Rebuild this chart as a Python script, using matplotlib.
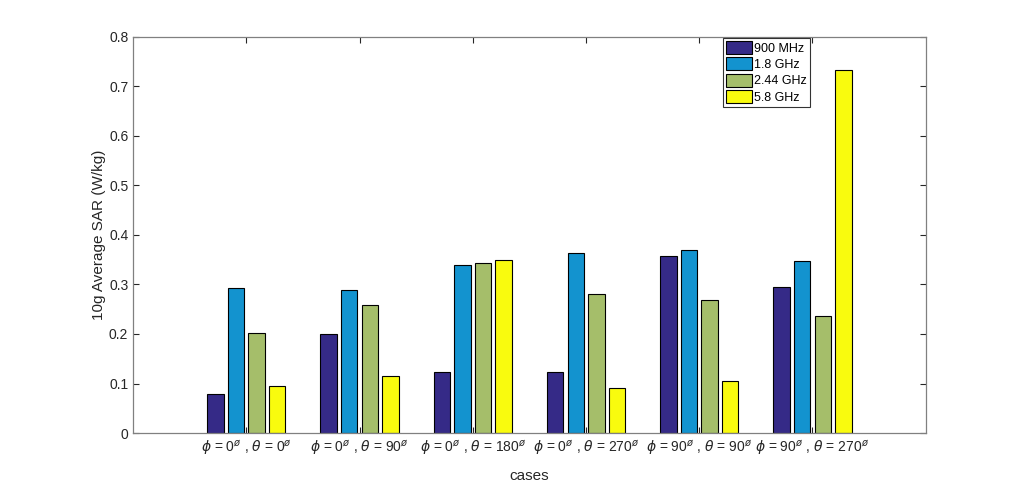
import numpy as np
import matplotlib
matplotlib.use("Agg")
import matplotlib.pyplot as plt

plt.rcParams["font.family"] = ["Liberation Sans", "DejaVu Sans"]
plt.rcParams["mathtext.fontset"] = "dejavusans"

# Data
cases = [
    r"$\phi$ = 0$^{ø}$ , $\theta$ = 0$^{ø}$",
    r"$\phi$ = 0$^{ø}$ , $\theta$ = 90$^{ø}$",
    r"$\phi$ = 0$^{ø}$ , $\theta$ = 180$^{ø}$",
    r"$\phi$ = 0$^{ø}$ , $\theta$ = 270$^{ø}$",
    r"$\phi$ = 90$^{ø}$ , $\theta$ = 90$^{ø}$",
    r"$\phi$ = 90$^{ø}$ , $\theta$ = 270$^{ø}$",
]
series_names = ["900 MHz", "1.8 GHz", "2.44 GHz", "5.8 GHz"]
sar_900 = [0.079, 0.201, 0.124, 0.124, 0.357, 0.295]
sar_1800 = [0.292, 0.288, 0.340, 0.364, 0.370, 0.348]
sar_2440 = [0.203, 0.259, 0.343, 0.280, 0.268, 0.237]
sar_5800 = [0.095, 0.115, 0.350, 0.090, 0.106, 0.734]

colors = ["#352A87", "#1393CF", "#A5BE6A", "#F9FB0E"]
axis_color = "#262626"

fig = plt.figure(figsize=(10.24, 4.88), dpi=100)
ax = fig.add_axes([0.13, 0.1127, 0.774, 0.8115])

x = np.arange(1, len(cases) + 1)
pitch = 0.727 / 4
width = 0.145
for i, (vals, name) in enumerate(zip([sar_900, sar_1800, sar_2440, sar_5800], series_names)):
    ax.bar(x + (i - 1.5) * pitch, vals, width, color=colors[i],
           edgecolor="black", linewidth=0.8, label=name)

ax.set_xlim(0, 7)
ax.set_ylim(0, 0.8)
ax.set_xticks(x)
ax.set_xticklabels(cases)
ax.set_yticks(np.arange(0, 0.81, 0.1))
ax.set_yticklabels(["0"] + [f"{v:.1f}" for v in np.arange(0.1, 0.81, 0.1)])

ax.tick_params(direction="in", length=4, width=0.8, colors=axis_color,
               labelsize=10, top=True, right=True)
for s in ax.spines.values():
    s.set_color("#808080")
    s.set_linewidth(0.9)

ax.set_xlabel("cases", fontsize=11, color=axis_color, labelpad=9)
ax.set_ylabel("10g Average SAR (W/kg)", fontsize=11, color=axis_color, labelpad=2)

leg = ax.legend(loc="upper left", bbox_to_anchor=(0.744, 0.998), fontsize=9,
                frameon=True, fancybox=False, edgecolor="black",
                handlelength=2.1, handleheight=1.25, handletextpad=0.15,
                borderpad=0.25, labelspacing=0.2, borderaxespad=0.0)
leg.get_frame().set_linewidth(0.8)

fig.savefig("out.png", dpi=100, facecolor="white")
